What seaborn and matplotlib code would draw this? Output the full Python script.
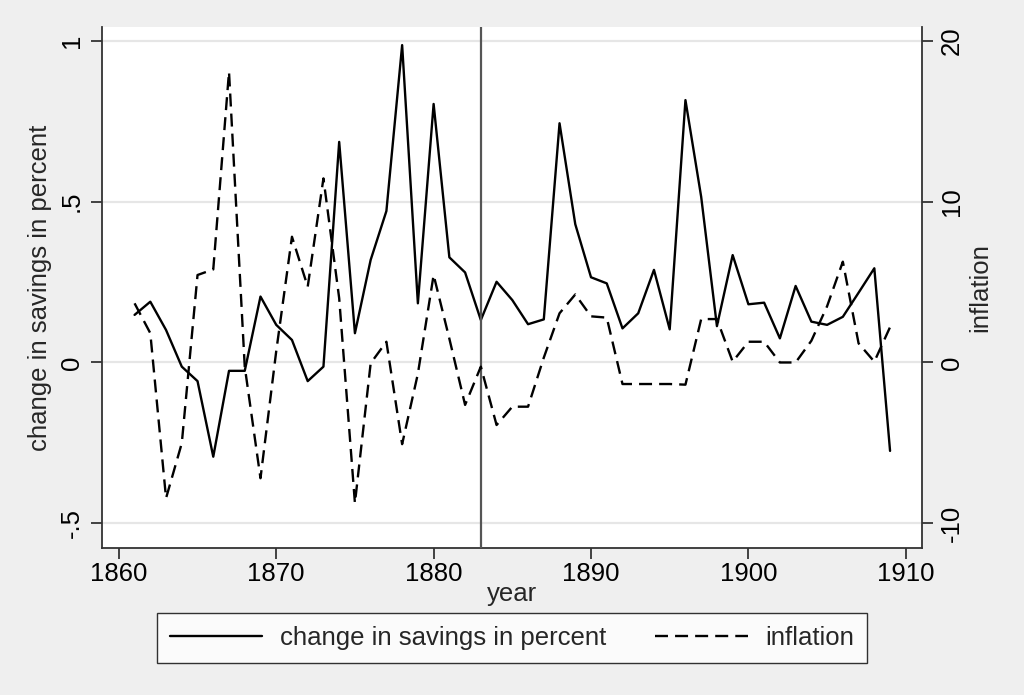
import numpy as np
import pandas as pd
import seaborn as sns
import matplotlib.pyplot as plt

# years 1861-1909
years = list(range(1861, 1910))

# change in savings in percent (left axis)
savings = [0.148, 0.189, 0.101, -0.013, -0.058, -0.293, -0.026, -0.026, 0.205, 0.117,
           0.070, -0.058, -0.013, 0.686, 0.091, 0.319, 0.471, 0.987, 0.184, 0.804,
           0.327, 0.280, 0.132, 0.251, 0.194, 0.119, 0.134, 0.744, 0.430, 0.265,
           0.246, 0.106, 0.153, 0.288, 0.103, 0.816, 0.515, 0.113, 0.334, 0.181,
           0.186, 0.075, 0.238, 0.127, 0.117, 0.142, 0.217, 0.293, -0.275]

# inflation (right axis)
inflation = [3.68, 1.82, -8.44, -5.02, 5.44, 5.79, 18.08, -0.26, -7.20, 0.7,
             7.82, 4.71, 11.45, 4.0, -8.75, -0.05, 1.29, -5.08, -0.7, 5.44,
             1.48, -2.64, -0.26, -3.89, -2.75, -2.75, 0.3, 3.06, 4.23, 2.87,
             2.79, -1.34, -1.34, -1.34, -1.34, -1.38, 2.70, 2.70, 0.05, 1.29,
             1.29, 0.0, 0.0, 1.35, 3.5, 6.27, 1.19, 0.05, 2.2]

left_ticks = [-0.5, 0, 0.5, 1]
left_labels = ["-.5", "0", ".5", "1"]
right_ticks = [-10, 0, 10, 20]
right_labels = ["-10", "0", "10", "20"]
x_ticks = [1860, 1870, 1880, 1890, 1900, 1910]
event_year = 1883

df = pd.DataFrame({"year": years, "savings": savings, "inflation": inflation})

sns.set_theme(style="white")
plt.rcParams['font.family'] = ['Liberation Sans', 'DejaVu Sans']
fs = 18.5
bg = "#efefef"
axc = "#333333"

fig = plt.figure(figsize=(10.24, 6.95), dpi=100, facecolor=bg)
ax = fig.add_axes([0.0996, 0.2115, 0.8008, 0.7495])
ax.set_facecolor("white")

# gridlines at left ticks
for t in left_ticks:
    ax.axhline(t, color="#e6e6e6", lw=1.6, zorder=0)

sns.lineplot(data=df, x="year", y="savings", ax=ax, color="black", lw=1.7,
             label="change in savings in percent", legend=False)
ax.axvline(event_year, color="#555555", lw=1.6, zorder=3)

ax2 = ax.twinx()
sns.lineplot(data=df, x="year", y="inflation", ax=ax2, color="black", lw=1.7,
             linestyle=(0, (5.5, 3.0)), label="inflation", legend=False)

ax.set_xlim(1858.93, 1911.03)
ax.set_ylim(-0.577, 1.043)
ax2.set_ylim(-0.577 * 20, 1.043 * 20)

ax.set_xticks(x_ticks)
ax.set_xticklabels([str(x) for x in x_ticks], fontsize=fs)
ax.set_yticks(left_ticks)
ax.set_yticklabels(left_labels, fontsize=fs, rotation=90, va="center")
ax2.set_yticks(right_ticks)
ax2.set_yticklabels(right_labels, fontsize=fs, rotation=90, va="center")

for a in (ax, ax2):
    a.tick_params(axis="both", direction="out", length=8, width=1.3, color=axc,
                  pad=5, labelcolor="black")
    for s in a.spines.values():
        s.set_visible(False)
ax.tick_params(axis="y", left=True, right=False)
ax.tick_params(axis="x", bottom=True, pad=2)
ax2.tick_params(axis="y", right=True, left=False)
ax.spines["left"].set_visible(True)
ax.spines["bottom"].set_visible(True)
ax2.spines["right"].set_visible(True)
for s in (ax.spines["left"], ax.spines["bottom"], ax2.spines["right"]):
    s.set_color(axc)
    s.set_linewidth(1.3)

ax.set_xlabel("year", fontsize=fs, labelpad=-3)
ax.set_ylabel("change in savings in percent", fontsize=fs, labelpad=6)
ax2.set_ylabel("inflation", fontsize=fs, labelpad=3)

h1, l1 = ax.get_legend_handles_labels()
h2, l2 = ax2.get_legend_handles_labels()
leg = fig.legend(h1 + h2, l1 + l2, loc="lower center", bbox_to_anchor=(0.5, 0.046),
                 ncol=2, fontsize=fs, frameon=True, fancybox=False,
                 handlelength=3.6, handletextpad=0.7, columnspacing=1.9,
                 borderpad=0.5, borderaxespad=0)
leg.get_frame().set_edgecolor("black")
leg.get_frame().set_facecolor("white")
leg.get_frame().set_linewidth(1.0)

fig.savefig("out.png", dpi=100, facecolor=bg)
